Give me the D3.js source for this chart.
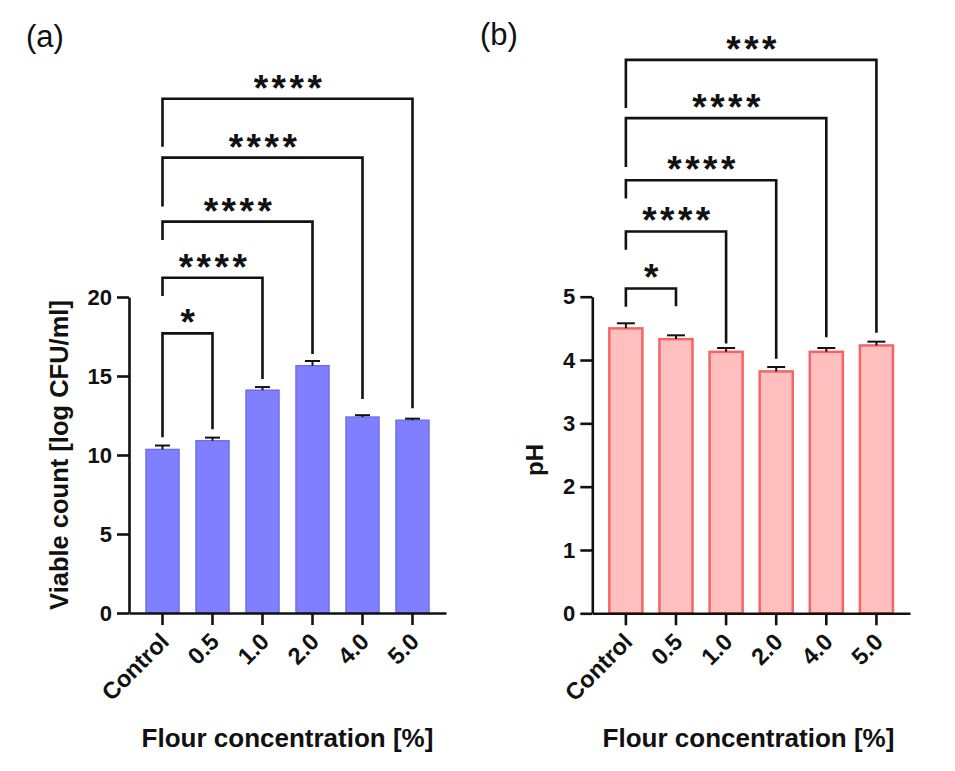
<!DOCTYPE html>
<html><head><meta charset="utf-8">
<script src="https://cdn.jsdelivr.net/npm/d3@7/dist/d3.min.js"></script>
<style>
html,body{margin:0;padding:0;background:#fff;}
svg{display:block;}
text{font-family:"Liberation Sans",Arial,sans-serif;}
</style></head>
<body>
<svg id="chart" width="955" height="771"></svg>
<script>
// ---------- data ----------
const categories = ["Control", "0.5", "1.0", "2.0", "4.0", "5.0"];
const viableMean = [10.35, 10.9, 14.1, 15.65, 12.4, 12.2];
const viableSD   = [0.25, 0.2, 0.2, 0.3, 0.12, 0.1];
const phMean = [4.5, 4.33, 4.13, 3.82, 4.13, 4.23];
const phSD   = [0.08, 0.06, 0.06, 0.07, 0.06, 0.06];
const viableTicks = [0, 5, 10, 15, 20];
const phTicks = [0, 1, 2, 3, 4, 5];
// significance brackets: [from, to, top, left leg end, right leg end, label] (axis units)
const viableBrackets = [
  [0, 1, 17.7, 11.12, 11.63, "*"],
  [0, 2, 21.22, 20.06, 14.81, "****"],
  [0, 3, 24.77, 23.61, 16.39, "****"],
  [0, 4, 28.82, 25.72, 13.54, "****"],
  [0, 5, 32.55, 29.51, 12.96, "****"]
];
const phBrackets = [
  [0, 1, 5.13, 4.84, 4.85, "*"],
  [0, 2, 6.03, 5.74, 4.26, "****"],
  [0, 3, 6.84, 6.55, 4.02, "****"],
  [0, 4, 7.82, 7.05, 4.36, "****"],
  [0, 5, 8.74, 7.98, 4.43, "***"]
];
const xTitle = "Flour concentration [%]";

const svg = d3.select("#chart");
svg.append("rect").attr("width", 955).attr("height", 771).attr("fill", "#fff");

function panel(cfg) {
  const g = svg.append("g");
  const x = d3.scaleBand().domain(categories).range(cfg.xr).padding(0.34);
  const y = d3.scaleLinear().domain(cfg.domain).range(cfg.yr);

  // bars
  g.selectAll("rect.bar").data(cfg.mean).enter().append("rect")
    .attr("x", (d, i) => x(categories[i]))
    .attr("width", x.bandwidth())
    .attr("y", d => y(d))
    .attr("height", d => y(0) - y(d))
    .attr("fill", cfg.fill).attr("stroke", cfg.stroke).attr("stroke-width", cfg.sw);

  // error bars (upper)
  const cx = i => x(categories[i]) + x.bandwidth() / 2;
  cfg.mean.forEach((m, i) => {
    g.append("line").attr("x1", cx(i)).attr("x2", cx(i))
      .attr("y1", y(m)).attr("y2", y(m + cfg.sd[i]))
      .attr("stroke", "#111").attr("stroke-width", 2);
    g.append("line").attr("x1", cx(i) - cfg.cap).attr("x2", cx(i) + cfg.cap)
      .attr("y1", y(m + cfg.sd[i])).attr("y2", y(m + cfg.sd[i]))
      .attr("stroke", "#111").attr("stroke-width", 2);
  });

  // axes
  const yAx = g.append("g").attr("transform", `translate(${cfg.xr[0]},0)`)
    .call(d3.axisLeft(y).tickValues(cfg.ticks).tickFormat(d3.format("d"))
      .tickSize(12).tickSizeOuter(0).tickPadding(5));
  const xAx = g.append("g").attr("transform", `translate(0,${cfg.yr[0]})`)
    .call(d3.axisBottom(x).tickSize(12).tickSizeOuter(0));
  [yAx, xAx].forEach(a => {
    a.selectAll("path,line").attr("stroke", "#111").attr("stroke-width", 2.6);
  });
  yAx.selectAll("text").attr("font-size", cfg.tickFont).attr("font-weight", "bold")
    .attr("fill", "#111").attr("font-family", "Liberation Sans, Arial, sans-serif");
  xAx.selectAll("text").attr("font-size", 23.5).attr("font-weight", "bold")
    .attr("fill", "#111").attr("font-family", "Liberation Sans, Arial, sans-serif")
    .attr("text-anchor", "end").attr("dy", null).attr("y", null)
    .attr("transform", "translate(8,30) rotate(-45)");

  // brackets
  cfg.brackets.forEach(b => {
    const x1 = cx(b[0]), x2 = cx(b[1]);
    const path = d3.path();
    path.moveTo(x1, y(b[3])); path.lineTo(x1, y(b[2]));
    path.lineTo(x2, y(b[2])); path.lineTo(x2, y(b[4]));
    g.append("path").attr("d", path.toString()).attr("fill", "none")
      .attr("stroke", "#111").attr("stroke-width", 2.6);
    g.append("text").attr("x", (x1 + x2) / 2 + 2).attr("y", y(b[2]) + 2)
      .attr("text-anchor", "middle").attr("font-size", 37).attr("font-weight", "bold")
      .attr("letter-spacing", 3.5).attr("fill", "#111").text(b[5]);
  });

  // titles
  g.append("text").attr("x", cfg.xtX).attr("y", 747).attr("text-anchor", "middle")
    .attr("font-size", 26).attr("font-weight", "bold").attr("fill", "#111").text(xTitle);
  g.append("text").attr("transform", `translate(${cfg.ytX},${cfg.ytY}) rotate(-90)`)
    .attr("text-anchor", "middle").attr("font-size", cfg.ytFont).attr("font-weight", "bold")
    .attr("fill", "#111").text(cfg.yTitle);
  g.append("text").attr("x", cfg.lab[0]).attr("y", cfg.lab[1])
    .attr("font-family", "Lato, 'Open Sans', sans-serif").attr("font-size", 31)
    .attr("fill", "#111").text(cfg.label);
}

panel({
  xr: [129, 446], yr: [613, 297], domain: [0, 20], ticks: viableTicks,
  mean: viableMean, sd: viableSD, fill: "#8080ff", stroke: "#6e6ef2", sw: 1.5, cap: 7.5,
  brackets: viableBrackets, tickFont: 22, xtX: 287.5, ytX: 68, ytY: 455, ytFont: 25.5,
  yTitle: "Viable count [log CFU/ml]", label: "(a)", lab: [26, 47]
});
panel({
  xr: [592.3, 910], yr: [613.3, 296.7], domain: [0, 5], ticks: phTicks,
  mean: phMean, sd: phSD, fill: "#ffbfbf", stroke: "#f46666", sw: 2.5, cap: 9,
  brackets: phBrackets, tickFont: 22, xtX: 748.5, ytX: 543, ytY: 460, ytFont: 24,
  yTitle: "pH", label: "(b)", lab: [480, 45]
});
</script>
</body></html>
